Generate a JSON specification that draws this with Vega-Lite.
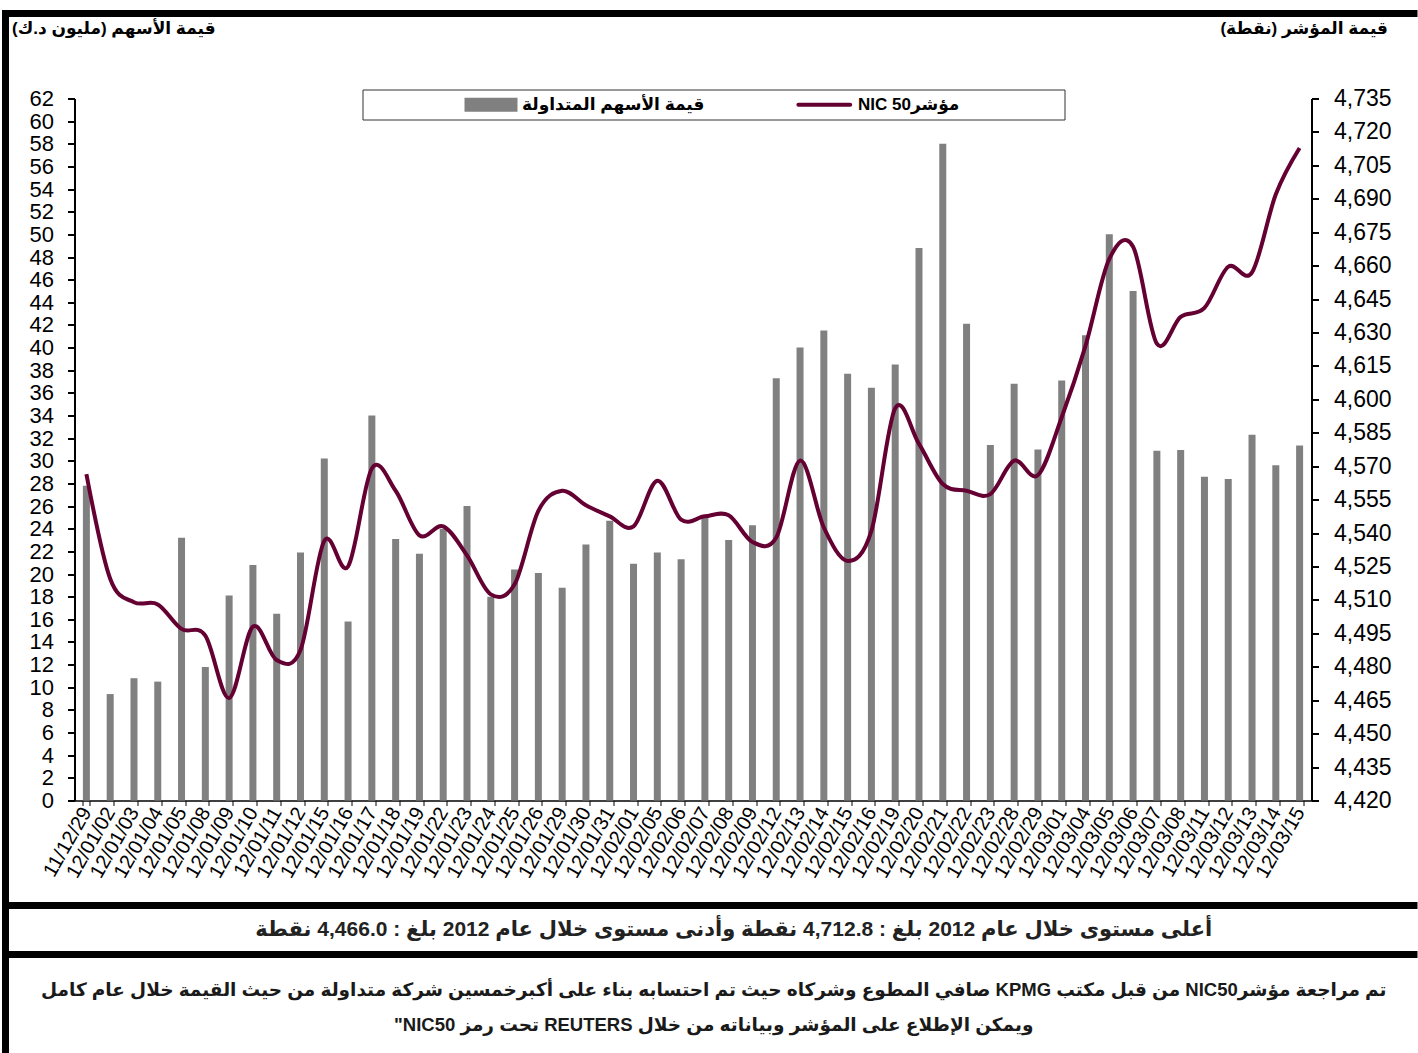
{
  "$schema": "https://vega.github.io/schema/vega-lite/v6.json",
  "padding": {"left": -8.5, "top": 8.5, "right": -1, "bottom": 0},
  "background": "white",
  "spacing": 0,
  "bounds": "flush",
  "config": {
    "font": "Liberation Sans, DejaVu Sans, sans-serif",
    "concat": {"spacing": 0}
  },
  "datasets": {
    "main": [
      {"d": "11/12/29", "v": 27.8, "i": 4566.5},
      {"d": "12/01/02", "v": 9.4, "i": 4519.5},
      {"d": "12/01/03", "v": 10.8, "i": 4509},
      {"d": "12/01/04", "v": 10.5, "i": 4508},
      {"d": "12/01/05", "v": 23.2, "i": 4497},
      {"d": "12/01/08", "v": 11.8, "i": 4494},
      {"d": "12/01/09", "v": 18.1, "i": 4466.0},
      {"d": "12/01/10", "v": 20.8, "i": 4498},
      {"d": "12/01/11", "v": 16.5, "i": 4483},
      {"d": "12/01/12", "v": 21.9, "i": 4487.5},
      {"d": "12/01/15", "v": 30.2, "i": 4536.5},
      {"d": "12/01/16", "v": 15.8, "i": 4525},
      {"d": "12/01/17", "v": 34.0, "i": 4569},
      {"d": "12/01/18", "v": 23.1, "i": 4559},
      {"d": "12/01/19", "v": 21.8, "i": 4539},
      {"d": "12/01/22", "v": 24.0, "i": 4543},
      {"d": "12/01/23", "v": 26.0, "i": 4530},
      {"d": "12/01/24", "v": 18.0, "i": 4512.5},
      {"d": "12/01/25", "v": 20.4, "i": 4517},
      {"d": "12/01/26", "v": 20.1, "i": 4550},
      {"d": "12/01/29", "v": 18.8, "i": 4559},
      {"d": "12/01/30", "v": 22.6, "i": 4552.5},
      {"d": "12/01/31", "v": 24.7, "i": 4547.5},
      {"d": "12/02/01", "v": 20.9, "i": 4543},
      {"d": "12/02/05", "v": 21.9, "i": 4563.5},
      {"d": "12/02/06", "v": 21.3, "i": 4546},
      {"d": "12/02/07", "v": 25.0, "i": 4547.5},
      {"d": "12/02/08", "v": 23.0, "i": 4548},
      {"d": "12/02/09", "v": 24.3, "i": 4536},
      {"d": "12/02/12", "v": 37.3, "i": 4538},
      {"d": "12/02/13", "v": 40.0, "i": 4572.5},
      {"d": "12/02/14", "v": 41.5, "i": 4542.5},
      {"d": "12/02/15", "v": 37.7, "i": 4527.5},
      {"d": "12/02/16", "v": 36.45, "i": 4541},
      {"d": "12/02/19", "v": 38.5, "i": 4596},
      {"d": "12/02/20", "v": 48.8, "i": 4580},
      {"d": "12/02/21", "v": 58.0, "i": 4562},
      {"d": "12/02/22", "v": 42.1, "i": 4559},
      {"d": "12/02/23", "v": 31.4, "i": 4557.5},
      {"d": "12/02/28", "v": 36.8, "i": 4572.5},
      {"d": "12/02/29", "v": 31.0, "i": 4566},
      {"d": "12/03/01", "v": 37.1, "i": 4592},
      {"d": "12/03/04", "v": 41.1, "i": 4624},
      {"d": "12/03/05", "v": 50.0, "i": 4663},
      {"d": "12/03/06", "v": 45.0, "i": 4668.5},
      {"d": "12/03/07", "v": 30.9, "i": 4625},
      {"d": "12/03/08", "v": 30.95, "i": 4637},
      {"d": "12/03/11", "v": 28.6, "i": 4641},
      {"d": "12/03/12", "v": 28.4, "i": 4659.5},
      {"d": "12/03/13", "v": 32.3, "i": 4657},
      {"d": "12/03/14", "v": 29.6, "i": 4692},
      {"d": "12/03/15", "v": 31.35, "i": 4712.8}
    ]
  },
  "vconcat": [
    {
      "width": 1408.5,
      "height": 892,
      "view": {"stroke": "black", "strokeWidth": 7, "strokeDash": [1408.5, 2300.5, 892], "strokeCap": "square", "fill": "white"},
      "data": {"name": "main"},
      "encoding": {
        "x": {
          "field": "d", "type": "nominal", "sort": null,
          "scale": {"range": [69, 1306], "paddingInner": 0.7, "paddingOuter": 0.35},
          "axis": {
            "orient": "bottom", "offset": -105, "title": null,
            "tickBand": "extent", "domainColor": "black", "domainWidth": 1.5,
            "tickColor": "black", "tickWidth": 1, "tickSize": 5,
            "labelAngle": -60, "labelAlign": "right", "labelBaseline": "middle",
            "labelFontSize": 20, "labelColor": "black", "labelPadding": 3,
            "labelOverlap": false, "labelFont": "Liberation Sans"
          }
        }
      },
      "layer": [
        {
          "mark": {"type": "bar", "size": 7},
          "encoding": {
            "y": {
              "field": "v", "type": "quantitative",
              "scale": {"domain": [0, 62], "range": [787, 85], "nice": false},
              "axis": {
                "orient": "left", "offset": -69, "grid": false,
                "values": [0,2,4,6,8,10,12,14,16,18,20,22,24,26,28,30,32,34,36,38,40,42,44,46,48,50,52,54,56,58,60,62],
                "domainColor": "black", "domainWidth": 2,
                "tickColor": "black", "tickWidth": 2, "tickSize": 7,
                "labelFontSize": 22, "labelColor": "black", "labelPadding": 14, "labelFont": "Liberation Sans",
                "title": "\u202bقيمة الأسهم (مليون د.ك)\u202c",
                "titleAngle": 0, "titleAlign": "left", "titleBaseline": "middle",
                "titleX": -63, "titleY": 15,
                "titleFontSize": 17, "titleFontWeight": "bold", "titleColor": "black",
                "encode": {"ticks": {"update": {"x": {"value": 7.5}, "x2": {"value": -7.5}}}}
              }
            },
            "color": {
              "datum": "a", "type": "nominal",
              "scale": {"domain": ["a", "b"], "range": ["#808080", "#650033"]},
              "legend": {
                "orient": "none", "legendX": 357, "legendY": 76,
                "direction": "horizontal", "title": null,
                "padding": 6.5, "strokeColor": "#333333", "fillColor": "white",
                "columnPadding": 0, "labelOffset": 42, "labelLimit": 500, "symbolOffset": 94,
                "labelFontSize": 17, "labelFontWeight": "bold", "labelColor": "black",
                "symbolSize": 196, "symbolStrokeWidth": 4,
                "labelExpr": "datum.value == 'a' ? '\u202bقيمة الأسهم المتداولة\u202c' : '\u202bمؤشرNIC 50\u202c'",
                "encode": {
                  "symbols": {
                    "update": {
                      "shape": {"signal": "datum.value == 'a' ? 'M-1,-1H6.571V1H-1Z' : 'M-1.3,0H6.1M35.5,0'"},
                      "fill": {"signal": "datum.value == 'a' ? '#808080' : 'transparent'"},
                      "stroke": {"signal": "datum.value == 'a' ? 'transparent' : '#650033'"},
                      "strokeWidth": {"signal": "datum.value == 'a' ? 0 : 4"},
                      "strokeCap": {"value": "round"},
                      "strokeJoin": {"value": "round"},
                      "size": {"value": 196},
                      "opacity": {"value": 1},
                      "fillOpacity": {"value": 1},
                      "strokeOpacity": {"value": 1}
                    }
                  }
                }
              }
            }
          }
        },
        {
          "mark": {"type": "line", "interpolate": "cardinal", "strokeWidth": 4},
          "encoding": {
            "y": {
              "field": "i", "type": "quantitative",
              "scale": {"domain": [4420, 4735], "range": [787, 85], "nice": false, "zero": false},
              "axis": {
                "orient": "right", "offset": -102.5, "grid": false,
                "values": [4420,4435,4450,4465,4480,4495,4510,4525,4540,4555,4570,4585,4600,4615,4630,4645,4660,4675,4690,4705,4720,4735],
                "format": ",d",
                "domainColor": "black", "domainWidth": 2,
                "tickColor": "black", "tickWidth": 2, "tickSize": 7,
                "labelFontSize": 23, "labelColor": "black", "labelPadding": 15, "labelFont": "Liberation Sans",
                "title": "\u202bقيمة المؤشر (نقطة)\u202c",
                "titleAngle": 0, "titleAlign": "right", "titleBaseline": "middle",
                "titleX": 76, "titleY": 15,
                "titleFontSize": 17, "titleFontWeight": "bold", "titleColor": "black",
                "encode": {"ticks": {"update": {"x": {"value": -7.5}, "x2": {"value": 7.5}}}}
              }
            },
            "color": {"datum": "b", "type": "nominal"}
          }
        }
      ],
      "resolve": {"scale": {"y": "independent"}}
    },
    {
      "width": 1408.5,
      "height": 48.5,
      "view": {"stroke": "black", "strokeWidth": 7, "strokeDash": [1408.5, 1457, 48.5], "strokeCap": "square", "fill": "white"},
      "data": {"values": [{"t": "\u202bأعلى مستوى خلال عام 2012 بلغ : 4,712.8  نقطة وأدنى مستوى خلال عام 2012 بلغ :  4,466.0  نقطة\u202c"}]},
      "mark": {"type": "text", "fontSize": 21, "fontWeight": "bold", "color": "#222222", "dx": 24, "font": "Liberation Sans, DejaVu Sans"},
      "encoding": {"text": {"field": "t", "type": "nominal"}}
    },
    {
      "width": 1408.5,
      "height": 99,
      "view": {"stroke": "black", "strokeWidth": 7, "strokeDash": [1408.5, 1507.5, 99], "strokeCap": "square", "fill": "white"},
      "data": {"values": [{"t": "\u202bتم مراجعة مؤشرNIC50 من قبل مكتب KPMG صافي المطوع وشركاه حيث تم احتسابه بناء على أكبرخمسين شركة متداولة من حيث القيمة خلال عام كامل\u202c\n\u202bويمكن الإطلاع على المؤشر وبياناته من خلال REUTERS تحت رمز NIC50\"\u202c"}]},
      "mark": {"type": "text", "fontSize": 18.5, "fontWeight": "bold", "color": "#1a1a1a", "lineBreak": "\n", "lineHeight": 35, "dy": -14, "dx": 4, "font": "Liberation Sans, DejaVu Sans"},
      "encoding": {"text": {"field": "t", "type": "nominal"}}
    }
  ]
}
